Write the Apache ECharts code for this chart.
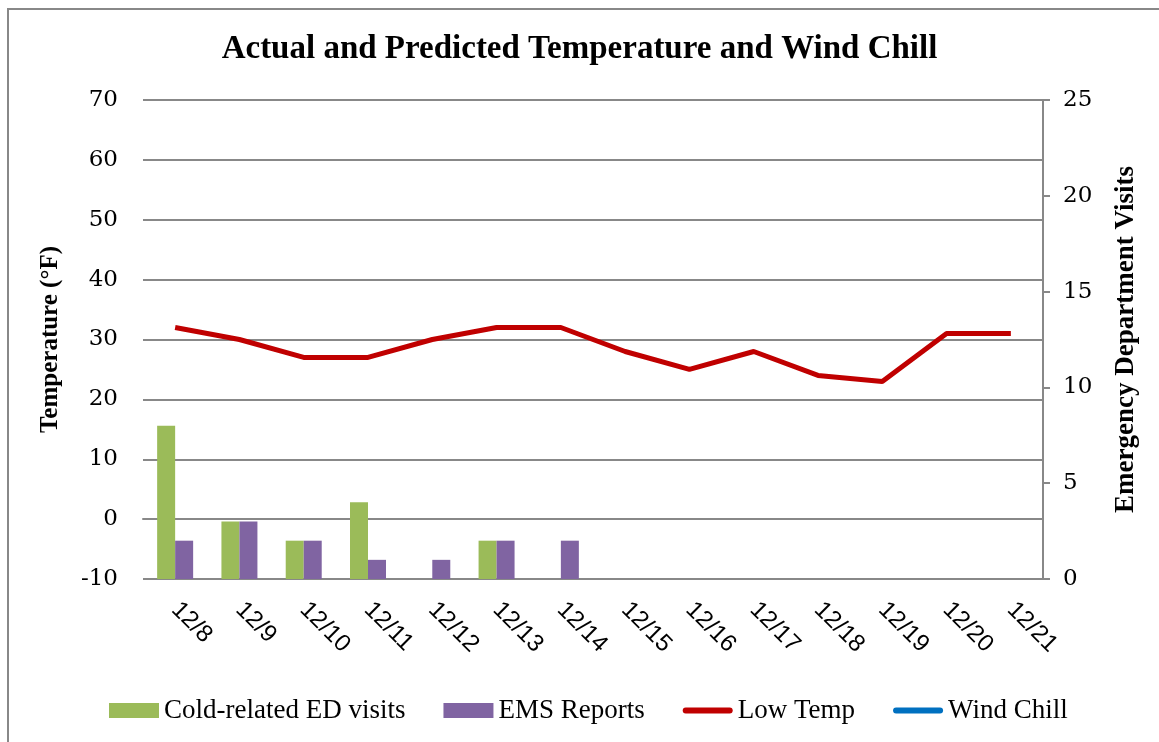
<!DOCTYPE html>
<html>
<head>
<meta charset="utf-8">
<script src="https://cdn.jsdelivr.net/npm/echarts@6/dist/echarts.min.js"></script>
<style>
  html, body { margin: 0; padding: 0; background: #fff; }
  #frame { position: absolute; left: 7px; top: 8px; width: 1152px; height: 734px;
           border-left: 2px solid #888; border-top: 2px solid #888; box-sizing: border-box; }
  #chart { position: absolute; left: 0; top: 0; width: 1159px; height: 742px; }
</style>
</head>
<body>
<div id="frame"></div>
<div id="chart"></div>
<script>
const days = ['12/8', '12/9', '12/10', '12/11', '12/12', '12/13', '12/14',
              '12/15', '12/16', '12/17', '12/18', '12/19', '12/20', '12/21'];
const edVisits = [8, 3, 2, 4, 0, 2, 0, 0, 0, 0, 0, 0, 0, 0];
const emsReports = [2, 3, 2, 1, 1, 2, 2, 0, 0, 0, 0, 0, 0, 0];
const lowTemp = [32, 30, 27, 27, 30, 32, 32, 28, 25, 28, 24, 23, 31, 31];
const windChill = [];

const serif = '"Liberation Serif", "DejaVu Serif", serif';
const tickFont = '"DejaVu Serif", serif';
const gray = '#888';
// flat bar used as legend icon for the line series
const lineIcon = 'path://M3,0 L47,0 A3,3 0 0 1 47,6 L3,6 A3,3 0 0 1 3,0 Z';

const chart = echarts.init(document.getElementById('chart'));
chart.setOption({
  animation: false,
  title: {
    text: 'Actual and Predicted Temperature and Wind Chill',
    left: 'center',
    top: 28,
    textStyle: { fontFamily: serif, fontWeight: 'bold', fontSize: 33, color: '#000' }
  },
  legend: {
    left: 104,
    top: 692,
    itemWidth: 50,
    itemHeight: 15,
    itemGap: 38,
    textStyle: { fontFamily: serif, fontSize: 27, color: '#000' },
    data: [
      { name: 'Cold-related ED visits', icon: 'rect' },
      { name: 'EMS Reports', icon: 'rect' },
      { name: 'Low Temp', icon: lineIcon },
      { name: 'Wind Chill', icon: lineIcon }
    ]
  },
  grid: { left: 143, right: 116, top: 100, bottom: 163 },
  xAxis: {
    type: 'category',
    data: days,
    axisLine: { show: true, lineStyle: { color: gray, width: 2 } },
    axisTick: { show: false },
    axisLabel: {
      rotate: -45,
      margin: 27,
      fontFamily: '"Liberation Sans", sans-serif',
      fontSize: 24,
      color: '#000'
    }
  },
  yAxis: [
    {
      type: 'value',
      min: -10,
      max: 70,
      interval: 10,
      name: 'Temperature (°F)',
      nameLocation: 'middle',
      nameGap: 80,
      nameTextStyle: { fontFamily: serif, fontWeight: 'bold', fontSize: 25, color: '#000' },
      axisLine: { show: false },
      axisTick: { show: false },
      axisLabel: { margin: 25, fontFamily: tickFont, fontSize: 23, color: '#000' },
      splitLine: { lineStyle: { color: gray, width: 2 } }
    },
    {
      type: 'value',
      min: 0,
      max: 25,
      interval: 5,
      position: 'right',
      name: 'Emergency Department Visits',
      nameLocation: 'middle',
      nameGap: 70,
      nameRotate: 90,
      nameTextStyle: { fontFamily: serif, fontWeight: 'bold', fontSize: 27, color: '#000' },
      axisLine: { show: true, lineStyle: { color: gray, width: 2 } },
      axisTick: { show: true, length: 7, lineStyle: { color: gray, width: 2 } },
      axisLabel: { margin: 20, fontFamily: tickFont, fontSize: 23, color: '#000' },
      splitLine: { show: false }
    }
  ],
  series: [
    {
      name: 'Cold-related ED visits',
      type: 'bar',
      yAxisIndex: 1,
      data: edVisits,
      barGap: '0%',
      barCategoryGap: '44%',
      itemStyle: { color: '#9BBB59' }
    },
    {
      name: 'EMS Reports',
      type: 'bar',
      yAxisIndex: 1,
      data: emsReports,
      itemStyle: { color: '#8064A2' }
    },
    {
      name: 'Low Temp',
      type: 'line',
      yAxisIndex: 0,
      data: lowTemp,
      symbol: 'none',
      lineStyle: { color: '#C00000', width: 5 },
      itemStyle: { color: '#C00000' }
    },
    {
      name: 'Wind Chill',
      type: 'line',
      yAxisIndex: 0,
      data: windChill,
      symbol: 'none',
      lineStyle: { color: '#0070C0', width: 5 },
      itemStyle: { color: '#0070C0' }
    }
  ]
});
</script>
</body>
</html>
